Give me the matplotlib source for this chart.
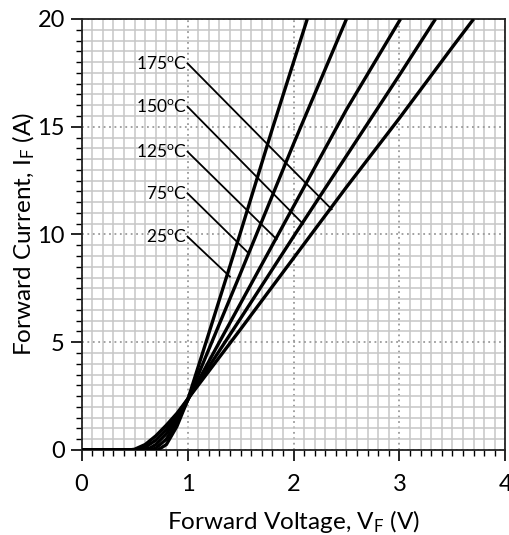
import matplotlib
matplotlib.use("Agg")
import matplotlib.pyplot as plt
import numpy as np
from matplotlib.ticker import MultipleLocator

plt.rcParams['font.family'] = ['Lato', 'DejaVu Sans']
plt.rcParams['mathtext.fontset'] = 'custom'
plt.rcParams['mathtext.rm'] = 'Lato'
plt.rcParams['mathtext.it'] = 'Lato'

# Curves (forward voltage V, forward current A)
v_25 = [0, 0.72, 0.8, 0.9, 1.0, 1.2, 1.5, 1.8, 2.13]
i_25 = [0, 0, 0.25, 1.1, 2.3, 5.4, 10.1, 14.9, 20]
v_75 = [0, 0.65, 0.7, 0.8, 0.9, 1.0, 1.5, 2.0, 2.5]
i_75 = [0, 0, 0.08, 0.5, 1.3, 2.3, 8.2, 14.2, 20]
v_125 = [0, 0.58, 0.65, 0.7, 0.8, 0.9, 1.0, 1.5, 2.0, 2.5, 3.01]
i_125 = [0, 0, 0.1, 0.25, 0.75, 1.45, 2.3, 6.8, 11.3, 15.8, 20]
v_150 = [0, 0.52, 0.6, 0.7, 0.8, 0.9, 1.0, 1.5, 2.0, 2.5, 3.0, 3.34]
i_150 = [0, 0, 0.12, 0.45, 0.95, 1.6, 2.35, 6.1, 9.9, 13.65, 17.4, 20]
v_175 = [0, 0.45, 0.5, 0.6, 0.7, 0.8, 0.9, 1.0, 1.5, 2.0, 2.5, 3.0, 3.5, 3.7]
i_175 = [0, 0, 0.03, 0.25, 0.65, 1.15, 1.7, 2.35, 5.6, 8.9, 12.2, 15.4, 18.7, 20]

# Temperature labels and their leader lines
labels = ["175", "150", "125", "75", "25"]
label_v = [1.0, 1.0, 1.0, 1.0, 1.0]
label_i = [17.94, 15.93, 13.84, 11.91, 9.9]
leader_end_v = [2.36, 2.09, 1.84, 1.57, 1.40]
leader_end_i = [11.17, 10.49, 9.78, 9.16, 8.04]

x_ticks = [0, 1, 2, 3, 4]
y_ticks = [0, 5, 10, 15, 20]

fig = plt.figure(figsize=(5.10, 5.35), dpi=100)
ax = fig.add_axes([0.160, 0.159, 0.831, 0.8055])

ax.set_xlim(0, 4)
ax.set_ylim(0, 20)
ax.set_xticks(x_ticks)
ax.set_yticks(y_ticks)
ax.xaxis.set_minor_locator(MultipleLocator(0.1))
ax.yaxis.set_minor_locator(MultipleLocator(0.5))

ax.grid(which='minor', color='#c6c6c6', linewidth=1.1, linestyle='-')
ax.grid(which='major', color='#9a9a9a', linewidth=1.3, linestyle=(0, (1, 2)))
ax.set_axisbelow(True)

ax.tick_params(which='major', direction='out', length=8, width=1.2, labelsize=17, pad=4)
ax.tick_params(which='minor', direction='out', length=4.5, width=1.0)
ax.tick_params(axis='x', which='major', pad=9.5)

for s in ax.spines.values():
    s.set_linewidth(1.3)
    s.set_color('#222222')

for v, i in [(v_25, i_25), (v_75, i_75), (v_125, i_125), (v_150, i_150), (v_175, i_175)]:
    ax.plot(v, i, color='black', linewidth=2.4, solid_capstyle='butt', zorder=3)

for t, lv, li, ev, ei in zip(labels, label_v, label_i, leader_end_v, leader_end_i):
    ax.plot([lv, ev], [li, ei], color='black', linewidth=1.3, zorder=3)
    ax.text(lv - 0.005, li, t + r"$^{\mathrm{o}}$C", ha='right', va='center', fontsize=12.5, zorder=4)

ax.set_xlabel(r"Forward Voltage, V$_{\mathrm{F}}$ (V)", fontsize=17.5, labelpad=9)
ax.set_ylabel(r"Forward Current, I$_{\mathrm{F}}$ (A)", fontsize=17.5, labelpad=0)

fig.savefig("out.png", dpi=100)
